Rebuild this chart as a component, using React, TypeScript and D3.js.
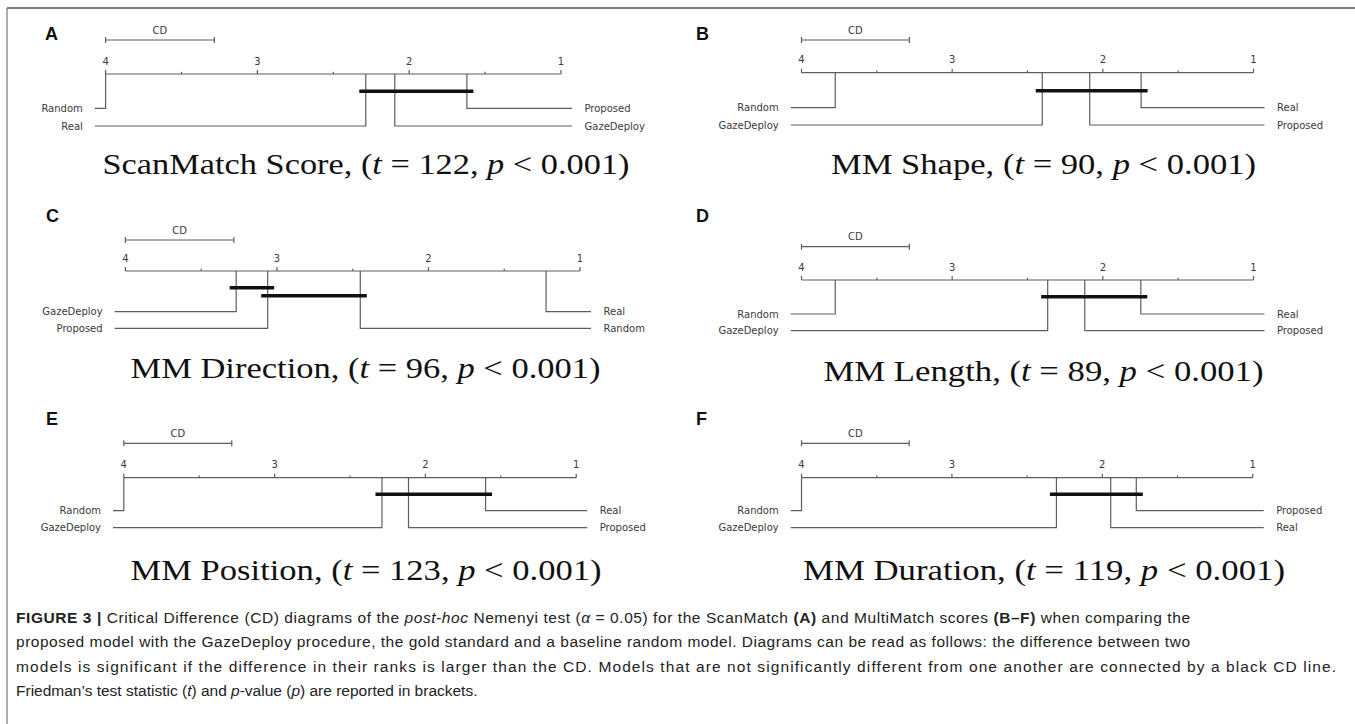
import React from "react";
import * as d3 from "d3";

// ---------------- DATA ----------------
const modelNames = ["Proposed", "GazeDeploy", "Real", "Random"];
const panelLetters = ["A", "B", "C", "D", "E", "F"];
const metricNames = ["ScanMatch Score", "MM Shape", "MM Direction", "MM Length", "MM Position", "MM Duration"];
const tStats = [122, 90, 96, 89, 123, 119];
const pLabel = "0.001";
const rankTicks = [4, 3, 2, 1];
const minorTicks = [3.5, 2.5, 1.5];
const cdValue = 0.716;

// average ranks, order = modelNames
const ranksA = [1.62, 2.095, 2.286, 4.0];
const ranksB = [2.087, 2.402, 1.746, 3.776];
const ranksC = [3.061, 3.269, 1.224, 2.45];
const ranksD = [2.12, 2.366, 1.748, 3.776];
const ranksE = [2.112, 2.288, 1.601, 4.0];
const ranksF = [1.774, 2.305, 1.944, 4.0];
const allRanks = [ranksA, ranksB, ranksC, ranksD, ranksE, ranksF];

// groups not significantly different (by model name)
const cliquesA = [["Real", "GazeDeploy", "Proposed"]];
const cliquesB = [["GazeDeploy", "Proposed", "Real"]];
const cliquesC = [["GazeDeploy", "Proposed"], ["Proposed", "Random"]];
const cliquesD = [["GazeDeploy", "Proposed", "Real"]];
const cliquesE = [["GazeDeploy", "Proposed", "Real"]];
const cliquesF = [["GazeDeploy", "Real", "Proposed"]];
const allCliques = [cliquesA, cliquesB, cliquesC, cliquesD, cliquesE, cliquesF];

// ---------------- LAYOUT ----------------
const layouts = [
  { lx: 45, ly: 40, x4: 105.6, x1: 561, cdY: 40, axisY: 74, cliqueY: 91.3, row0: 108.3, rowStep: 17.7, titleX: 366, titleY: 173.5, titleW: 527 },
  { lx: 696, ly: 40, x4: 801.5, x1: 1253.5, cdY: 40, axisY: 72.7, cliqueY: 90.7, row0: 107.7, rowStep: 17.3, titleX: 1043.5, titleY: 173.5, titleW: 425 },
  { lx: 46, ly: 221.5, x4: 125.4, x1: 580, cdY: 240, axisY: 271, cliqueY: 287.7, row0: 311.7, rowStep: 16.6, titleX: 365.5, titleY: 378, titleW: 470 },
  { lx: 696, ly: 221.5, x4: 801.5, x1: 1253.5, cdY: 246.7, axisY: 280, cliqueY: 296.7, row0: 314, rowStep: 16.7, titleX: 1043.5, titleY: 381.3, titleW: 440 },
  { lx: 46, ly: 424.5, x4: 123.8, x1: 576.2, cdY: 443.3, axisY: 477.7, cliqueY: 494.3, row0: 510.7, rowStep: 17, titleX: 366, titleY: 579.5, titleW: 471 },
  { lx: 696, ly: 424.5, x4: 801.5, x1: 1252.7, cdY: 443.3, axisY: 477.7, cliqueY: 494.3, row0: 510.7, rowStep: 17, titleX: 1044, titleY: 579.5, titleW: 482 },
];

const LINE = "#5e5e5e";
const TXT = "#3a3a3a";
const SANS = "'DejaVu Sans', sans-serif";

function Panel({ idx }: { idx: number }) {
  const L = layouts[idx];
  const ranks = allRanks[idx];
  const cliques = allCliques[idx];
  const x = d3.scaleLinear().domain([4, 1]).range([L.x4, L.x1]);
  const models = modelNames.map((n, i) => ({ name: n, rank: ranks[i] }));
  const sorted = [...models].sort((a, b) => b.rank - a.rank);
  const half = Math.ceil(sorted.length / 2);
  const left = sorted.slice(0, half);
  const right = sorted.slice(half).reverse();
  const leftEnd = L.x4 - 10.8;
  const rightEnd = L.x1 + 11;
  const rankOf = (n: string) => ranks[modelNames.indexOf(n)];
  return (
    <g>
      <text x={L.lx} y={L.ly} fontFamily="'Liberation Sans', Arial, sans-serif" fontWeight="bold" fontSize={18} fill="#111">
        {panelLetters[idx]}
      </text>
      {/* CD bar */}
      <line x1={x(4)} x2={x(4 - cdValue)} y1={L.cdY} y2={L.cdY} stroke={LINE} strokeWidth={1.2} />
      <line x1={x(4)} x2={x(4)} y1={L.cdY - 3} y2={L.cdY + 3} stroke={LINE} strokeWidth={1.2} />
      <line x1={x(4 - cdValue)} x2={x(4 - cdValue)} y1={L.cdY - 3} y2={L.cdY + 3} stroke={LINE} strokeWidth={1.2} />
      <text x={x(4 - cdValue / 2)} y={L.cdY - 6.5} textAnchor="middle" fontFamily={SANS} fontSize={10} fill={TXT}>CD</text>
      {/* axis */}
      <line x1={x(4)} x2={x(1)} y1={L.axisY} y2={L.axisY} stroke={LINE} strokeWidth={1.2} />
      {rankTicks.map((t) => (
        <g key={"t" + t}>
          <line x1={x(t)} x2={x(t)} y1={L.axisY - 4} y2={L.axisY} stroke={LINE} strokeWidth={1.2} />
          <text x={x(t)} y={L.axisY - 9.5} textAnchor="middle" fontFamily={SANS} fontSize={10} fill={TXT}>{t}</text>
        </g>
      ))}
      {minorTicks.map((t) => (
        <line key={"m" + t} x1={x(t)} x2={x(t)} y1={L.axisY - 2.2} y2={L.axisY} stroke={LINE} strokeWidth={1.2} />
      ))}
      {/* left models */}
      {left.map((m, i) => {
        const y = L.row0 + i * L.rowStep;
        return (
          <g key={m.name}>
            <path d={`M${x(m.rank)},${L.axisY}V${y}H${leftEnd}`} fill="none" stroke={LINE} strokeWidth={1.2} />
            <text x={leftEnd - 12} y={y} dy="0.35em" textAnchor="end" fontFamily={SANS} fontSize={10} fill={TXT}>{m.name}</text>
          </g>
        );
      })}
      {right.map((m, i) => {
        const y = L.row0 + i * L.rowStep;
        return (
          <g key={m.name}>
            <path d={`M${x(m.rank)},${L.axisY}V${y}H${rightEnd}`} fill="none" stroke={LINE} strokeWidth={1.2} />
            <text x={rightEnd + 12.5} y={y} dy="0.35em" textAnchor="start" fontFamily={SANS} fontSize={10} fill={TXT}>{m.name}</text>
          </g>
        );
      })}
      {/* cliques */}
      {cliques.map((c, i) => {
        const rs = c.map(rankOf);
        const hi = d3.max(rs) as number;
        const lo = d3.min(rs) as number;
        const y = L.cliqueY + i * 8;
        return <line key={"c" + i} x1={x(hi) - 6.5} x2={x(lo) + 6.5} y1={y} y2={y} stroke="#111" strokeWidth={3.6} />;
      })}
      {/* title */}
      <text x={L.titleX} y={L.titleY} textAnchor="middle" fontFamily="'Liberation Serif', 'Times New Roman', serif" fontSize={29} fill="#111"
        textLength={L.titleW} lengthAdjust="spacingAndGlyphs">
        {metricNames[idx] + ", ("}
        <tspan fontStyle="italic">t</tspan>
        {" = " + tStats[idx] + ", "}
        <tspan fontStyle="italic">p</tspan>
        {" < " + pLabel + ")"}
      </text>
    </g>
  );
}

const captionLines: { s: string; b?: boolean; i?: boolean }[][] = [
  [
    { s: "FIGURE 3 |", b: true },
    { s: " Critical Difference (CD) diagrams of the " },
    { s: "post-hoc", i: true },
    { s: " Nemenyi test (" },
    { s: "α", i: true },
    { s: " = 0.05) for the ScanMatch " },
    { s: "(A)", b: true },
    { s: " and MultiMatch scores " },
    { s: "(B–F)", b: true },
    { s: " when comparing the" },
  ],
  [{ s: "proposed model with the GazeDeploy procedure, the gold standard and a baseline random model. Diagrams can be read as follows: the difference between two" }],
  [{ s: "models is significant if the difference in their ranks is larger than the CD. Models that are not significantly different from one another are connected by a black CD line." }],
  [
    { s: "Friedman’s test statistic (" },
    { s: "t", i: true },
    { s: ") and " },
    { s: "p", i: true },
    { s: "-value (" },
    { s: "p", i: true },
    { s: ") are reported in brackets." },
  ],
];
const captionWidths = [1174, 1174, 1320, 0];

export default function App() {
  return (
    <svg width={1355} height={724} style={{ position: "absolute", left: 0, top: 0, background: "#fff" }}>
      <rect x={0} y={0} width={1355} height={724} fill="#fff" />
      <line x1={7} x2={1355} y1={8} y2={8} stroke="#555" strokeWidth={1.5} />
      <line x1={7} x2={7} y1={8} y2={724} stroke="#777" strokeWidth={1.2} />
      {layouts.map((_, i) => (
        <Panel key={i} idx={i} />
      ))}
      {captionLines.map((segs, li) => (
        <text key={li} x={16} y={622.5 + li * 24.5} fontFamily="'Liberation Sans', Arial, sans-serif" fontSize={15.5} fill="#222"
          {...(captionWidths[li] ? { textLength: captionWidths[li], lengthAdjust: "spacing" } : {})}>
          {segs.map((sg, si) => (
            <tspan key={si} fontWeight={sg.b ? "bold" : "normal"} fontStyle={sg.i ? "italic" : "normal"}>{sg.s}</tspan>
          ))}
        </text>
      ))}
    </svg>
  );
}
